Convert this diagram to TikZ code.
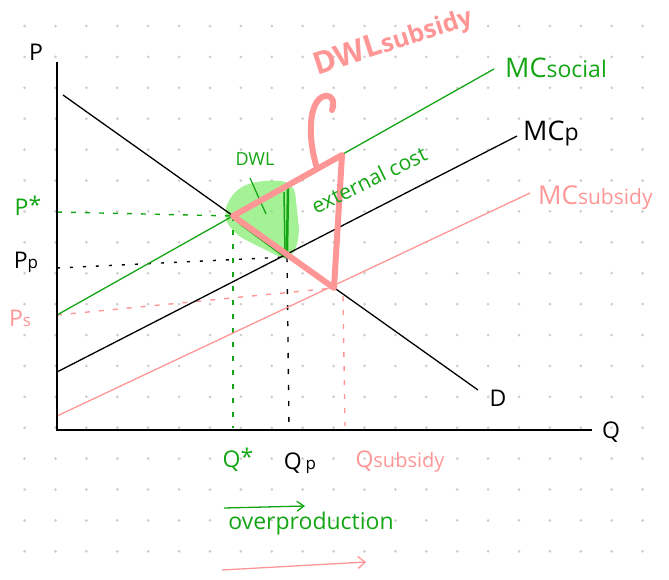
\documentclass[tikz,border=0pt]{standalone}
\usepackage{fontspec}
\setmainfont{Open Sans}
\usetikzlibrary{arrows.meta}
\definecolor{grn}{RGB}{20,165,20}
\definecolor{pnk}{RGB}{255,150,150}
\definecolor{blob}{RGB}{125,235,105}
\definecolor{dotc}{RGB}{205,205,205}
\tikzset{
  axis/.style={line width=1.6pt,black},
  curve/.style={line width=1.3pt},
  guide/.style={line width=1.4pt,dash pattern=on 5pt off 9pt},
  lbl/.style={inner sep=0pt,font=\fontsize{23}{25}\selectfont},
  thickpink/.style={line width=6pt,pnk,line join=round,line cap=round},
}
\newcommand{\fs}[1]{\fontsize{#1}{#1}\selectfont}
\begin{document}
\begin{tikzpicture}[x=1pt,y=-1pt]
\useasboundingbox (0,0) rectangle (669,579);
% dot grid
\foreach \i in {0,...,20}{
  \foreach \j in {0,...,17}{
    \fill[dotc] (24.6+30.9*\i,26+30.9*\j) circle (1.5);
  }
}
% key coordinates
\coordinate (O) at (57,430);
\coordinate (Ytop) at (57,62);
\coordinate (Xend) at (592,430);
\coordinate (D1) at (63,95);
\coordinate (D2) at (478,390);
\coordinate (P1) at (57,372);
\coordinate (P2) at (517,136);
\coordinate (S1) at (57,315);
\coordinate (S2) at (494,69);
\coordinate (B1) at (57,416);
\coordinate (B2) at (530,193);
\coordinate (Estar) at (233,216);
\coordinate (Ep) at (287,257);
\coordinate (Es) at (334,288);
\coordinate (T) at (342,155);
% green DWL blob
\fill[blob,opacity=0.7,rounded corners=12pt] (222,214) -- (236,188) -- (262,180) -- (294,182) -- (300,238) -- (290,262) -- (262,248) -- (234,234) -- cycle;
\draw[grn,line width=2.5pt] (288,188) -- (287,252);
\draw[grn,line width=1.5pt] (284,192) -- (285,250);
\draw[grn,line width=1.2pt] (250,178) -- (266,214);
\draw[grn,line width=1.5pt] (240,224) -- (286,258);
% guides
\draw[guide,grn] (57,212) -- (Estar);
\draw[guide,black,dash pattern=on 3pt off 10pt] (57,268) -- (Ep);
\draw[guide,pnk] (S1) -- (Es);
\draw[guide,grn] (Estar) -- (233,428);
\draw[guide,black,dash pattern=on 5pt off 11pt] (Ep) -- (289,426);
\draw[guide,pnk] (343,296) -- (345,426);
% curves
\draw[curve,black] (D1) -- (D2);
\draw[curve,black] (P1) -- (P2);
\draw[curve,grn] (S1) -- (S2);
\draw[curve,pnk] (B1) -- (B2);
% axes
\draw[axis] (Ytop) -- (O) -- (Xend);
% pink DWL triangle
\draw[thickpink] (Estar) -- (T) -- (Es) -- cycle;
\draw[thickpink] (317,168) .. controls (308,140) and (308,105) .. (322,97) .. controls (330,93) and (336,100) .. (332,110);
% labels
\node[lbl] (lP) at (36,52) {P};
\node[lbl] (lQ) at (611,432) {Q};
\node[lbl] (lD) at (498,398) {D};
\node[lbl,grn] (lPs) at (28,206) {P\raisebox{2pt}{*}};
\node[lbl] (lPp) at (26,262) {P\fs{17}p};
\node[lbl,pnk] (lPsub) at (20,318) {P\fs{17}s};
\node[lbl,grn] (lQs) at (238,460) {Q\raisebox{2pt}{*}};
\node[lbl] (lQp) at (300,463) {Q\,\fs{17}p};
\node[lbl,pnk] (lQsub) at (400,462) {Q\fs{20}subsidy};
\node[lbl,grn,anchor=west,font=\fs{27}] (lMCs) at (505,68) {MC\fs{23}social};
\node[lbl,anchor=west,font=\fs{27}] (lMCp) at (523,133) {MC\fs{23}p};
\node[lbl,pnk,anchor=west,font=\fs{26}] (lMCb) at (538,198) {MC\fs{21}subsidy};
\node[inner sep=0pt,grn,font=\fs{18}] (lDWL) at (255,159) {DWL};
\node[inner sep=0pt,grn,font=\fs{21},rotate=26] (lext) at (369,180) {external cost};
\node[inner sep=0pt,pnk,font=\bfseries\fs{31},rotate=18] (ldwls) at (393,42) {DWL\fs{25}subsidy};
\node[inner sep=0pt,grn,font=\fs{23}] (lover) at (311,524) {overproduction};
% arrows
\coordinate (ga1) at (224,508);
\coordinate (ga2) at (305,506);
\draw[grn,line width=1.3pt,-{Straight Barb[length=7pt,width=10pt]}] (ga1) -- (ga2);
\coordinate (pa1) at (222,570);
\coordinate (pa2) at (366,562);
\draw[pnk,line width=1.3pt,-{Straight Barb[length=7pt,width=12pt]}] (pa1) -- (pa2);
\end{tikzpicture}
\end{document}
